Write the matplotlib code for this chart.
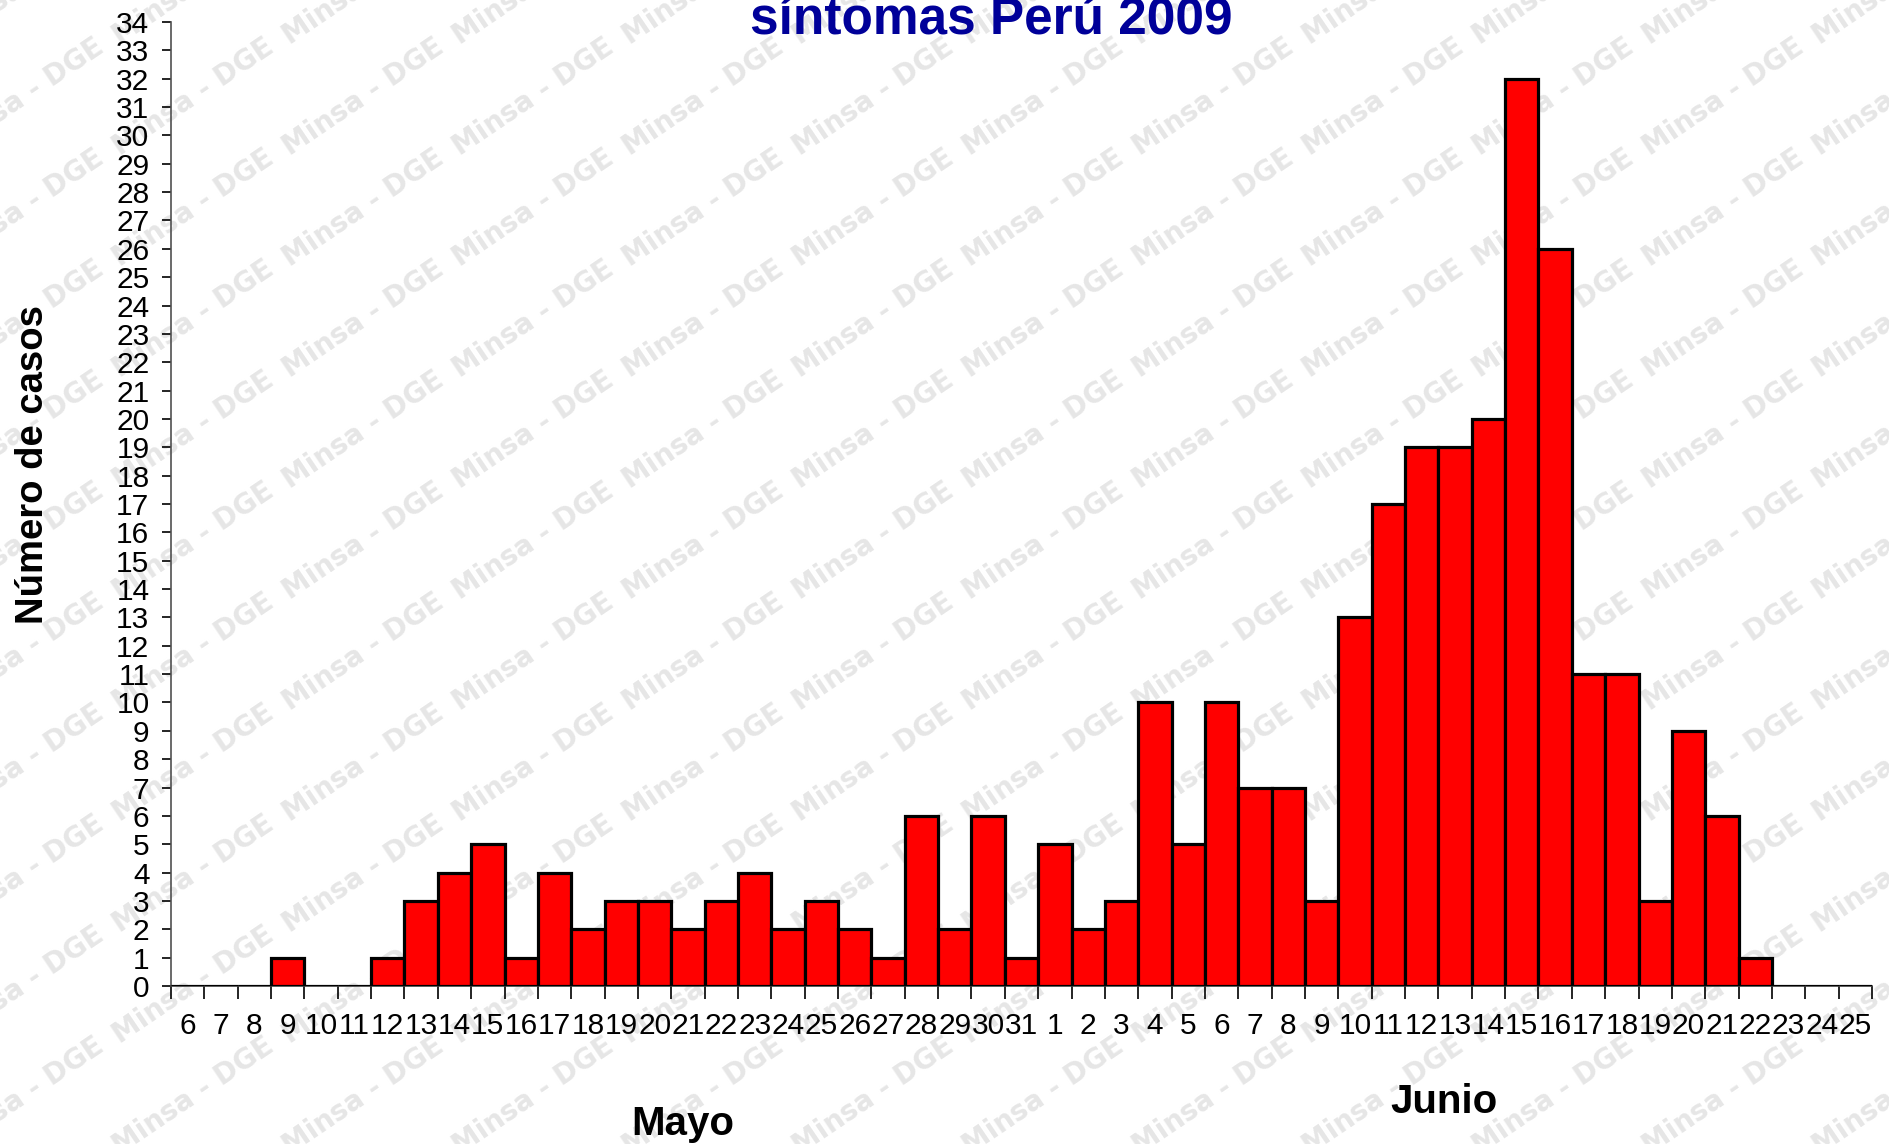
import numpy as np
import matplotlib
matplotlib.use('Agg')
import matplotlib.pyplot as plt

# daily cases by onset date, 6 May - 25 June 2009
may_days = list(range(6, 32))
may_cases = [0, 0, 0, 1, 0, 0, 1, 3, 4, 5, 1, 4, 2, 3, 3, 2, 3, 4, 2, 3, 2, 1, 6, 2, 6, 1]
june_days = list(range(1, 26))
june_cases = [5, 2, 3, 10, 5, 10, 7, 7, 3, 13, 17, 19, 19, 20, 32, 26, 11, 11, 3, 9, 6, 1, 0, 0, 0]

day_labels = [str(d) for d in may_days + june_days]
cases = may_cases + june_cases

plt.rcParams['font.family'] = ['Liberation Sans', 'DejaVu Sans']

W, H = 1890, 1144
fig = plt.figure(figsize=(W / 100, H / 100), dpi=100)

# watermark "Minsa - DGE" behind everything
for i in range(-3, 12):
    for j in range(-4, 11):
        x = 290 + 170 * i
        y = 267 + 111 * j
        fig.text(x / W, 1 - y / H, 'Minsa - DGE', family='DejaVu Sans', fontweight='bold',
                 fontsize=20, color='#e6e6e6', rotation=34, rotation_mode='anchor',
                 ha='left', va='baseline', zorder=-5)

ax = fig.add_axes([171 / W, 1 - 986 / H, 1701 / W, 964 / H])
ax.patch.set_alpha(0)

x = np.arange(len(cases))
ax.bar(x, cases, width=1.0, color='#ff0000', edgecolor='black', linewidth=2.3, zorder=3)

ax.set_xlim(-0.5, len(cases) - 0.5)
ax.set_ylim(0, 34)
ax.set_yticks(range(0, 35))
ax.tick_params(axis='y', labelsize=21.5, length=6.5, width=1.2, pad=9, colors='black')

# ticks at bin edges, labels at bin centres
ax.set_xticks(np.arange(len(cases) + 1) - 0.5)
ax.set_xticklabels([])
ax.set_xticks(x, minor=True)
ax.set_xticklabels(day_labels, minor=True)
ax.tick_params(axis='x', which='major', length=9, width=1.2, direction='out')
ax.tick_params(axis='x', which='minor', length=0, labelsize=21.5, pad=19)

for s in ['top', 'right']:
    ax.spines[s].set_visible(False)
ax.spines['left'].set_color('#505050')
ax.spines['left'].set_linewidth(1.2)
ax.spines['bottom'].set_color('#404040')
ax.spines['bottom'].set_linewidth(1.2)

fig.text(991 / W, 1 - 34 / H, 'síntomas Perú 2009', ha='center', va='baseline',
         fontsize=37, fontweight='bold', color='#000099')
fig.text(33 / W, 1 - 464 / H, 'Número de casos', rotation=90, ha='center', va='center',
         fontsize=27.5, fontweight='bold')
fig.text(683 / W, 1 - 1135 / H, 'Mayo', ha='center', va='baseline', fontsize=29, fontweight='bold')
fig.text(1444 / W, 1 - 1113 / H, 'Junio', ha='center', va='baseline', fontsize=29, fontweight='bold')

fig.savefig('out.png', dpi=100)
